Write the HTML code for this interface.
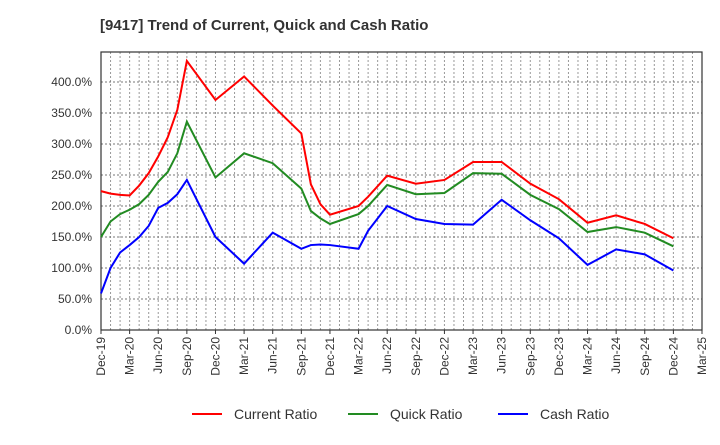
<!DOCTYPE html>
<html><head><meta charset="utf-8"><style>
body{margin:0;background:#fff;font-family:"Liberation Sans",sans-serif}
</style></head><body>
<svg id="c" width="720" height="440" xmlns="http://www.w3.org/2000/svg">
<text x="100" y="30" font-size="15" font-weight="bold" fill="#333">[9417]  Trend of Current, Quick and Cash Ratio</text>
</svg>
<script>
const months=[0,1,2,3,4,5,6,7,8,9,12,15,18,21,22,23,24,27,28,30,33,36,39,42,45,48,51,54,57,60];
const currentRatio=[224,220,218,217,233,253,280,311,355,434,371,409,362,317,235,203,186,200,215,249,236,242,271,271,236,211,173,185,171,148];
const quickRatio=[150,175,187,194,203,218,239,255,285,336,246,285,269,228,192,180,171,187,200,234,219,221,253,252,218,195,158,166,157,135];
const cashRatio=[59,100,125,137,150,168,197,205,219,242,150,107,157,131,137,138,137,131,160,200,179,171,170,210,177,148,105,130,122,96];
const yTicks=[0,50,100,150,200,250,300,350,400];
const xLabels=["Dec-19","Mar-20","Jun-20","Sep-20","Dec-20","Mar-21","Jun-21","Sep-21","Dec-21","Mar-22","Jun-22","Sep-22","Dec-22","Mar-23","Jun-23","Sep-23","Dec-23","Mar-24","Jun-24","Sep-24","Dec-24","Mar-25"];
const NS="http://www.w3.org/2000/svg",svg=document.getElementById('c');
const L=101,R=702,T=52,B=330;
const xs=m=>L+m*(R-L)/63;
const ys=v=>B-v*0.62;
function mk(t,a,p){const e=document.createElementNS(NS,t);for(const k in a)e.setAttribute(k,a[k]);(p||svg).appendChild(e);return e;}
const grid=mk('g',{});


for(let m=1;m<63;m++){mk('line',{x1:xs(m),x2:xs(m),y1:T,y2:B,stroke:'#999','stroke-dasharray':'2,2','stroke-width':1},grid);}
yTicks.forEach(v=>{if(v>0)mk('line',{x1:L,x2:R,y1:ys(v),y2:ys(v),stroke:'#777','stroke-dasharray':'2,2','stroke-width':1},grid);
const t=mk('text',{x:92,y:ys(v)+4,'text-anchor':'end','font-size':12,fill:'#333'});


t.textContent=v.toFixed(1)+'%';});
xLabels.forEach((s,i)=>{const x=xs(i*3);mk('line',{x1:x,x2:x,y1:B,y2:B+4,stroke:'#333'});
const t=mk('text',{x:0,y:0,'text-anchor':'end','font-size':12,fill:'#333',transform:`translate(${x+4},${B+7}) rotate(-90)`});


t.textContent=s;});
const frame=mk('rect',{x:L,y:T,width:R-L,height:B-T,fill:'none',stroke:'#333','stroke-width':1.2});


const series=[[currentRatio,'#ff0000','current-ratio-line'],[quickRatio,'#228b22','quick-ratio-line'],[cashRatio,'#0000ff','cash-ratio-line']];
series.forEach(([d,c,n])=>{const p=mk('polyline',{points:d.map((v,i)=>xs(months[i])+','+ys(v)).join(' '),fill:'none',stroke:c,'stroke-width':2});

});
const legend=[['Current Ratio','#ff0000',192],['Quick Ratio','#228b22',348],['Cash Ratio','#0000ff',498]];
legend.forEach(([s,c,x])=>{const g=mk('g',{});


mk('line',{x1:x,x2:x+30,y1:414,y2:414,stroke:c,'stroke-width':2},g);
const t=mk('text',{x:x+42,y:419,'font-size':14,fill:'#333'},g);t.textContent=s;});
</script>
</body></html>
